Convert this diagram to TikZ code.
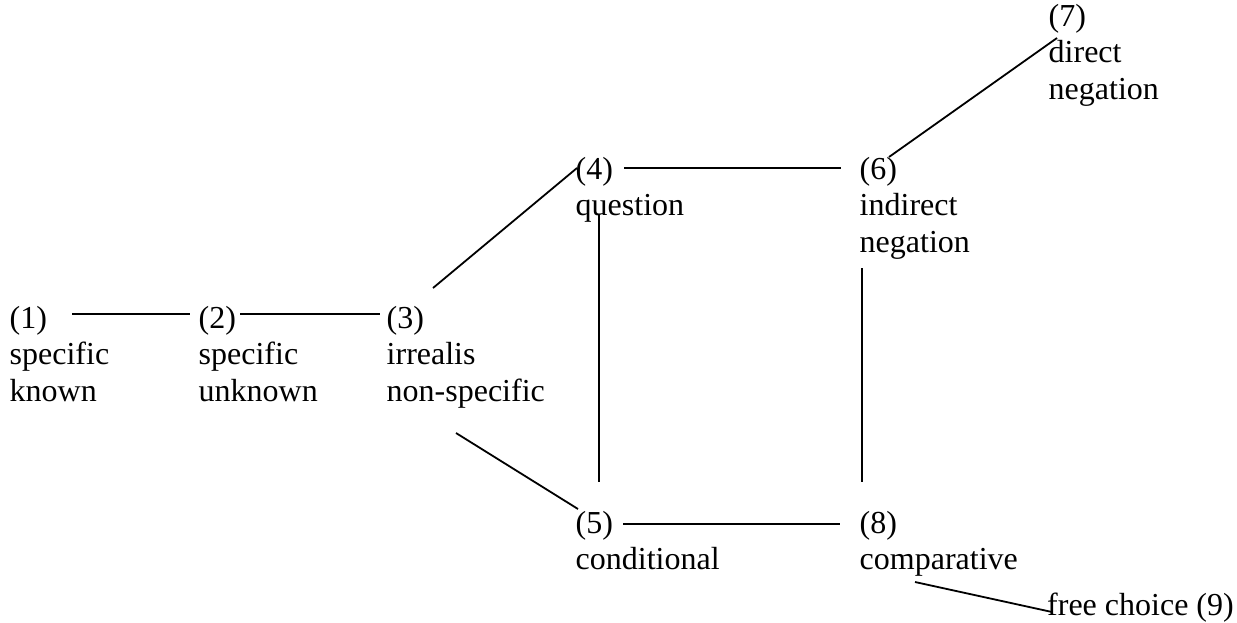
\documentclass[tikz,border=0pt]{standalone}
\usepackage{fontspec}
\setmainfont{Liberation Serif}
\newcommand\stackit[1]{\begin{tabular}[t]{@{}l@{}}#1\end{tabular}}
\begin{document}
\begin{tikzpicture}[x=1pt,y=-1pt,
  lbl/.style={inner sep=0pt, anchor=base west, font=\fontsize{32}{36.5}\selectfont},
  link/.style={line width=1.8pt}]
\useasboundingbox (0,0) rectangle (1237,622);
% concept nodes
\node[lbl] (n1) at (9.5,328) {\stackit{(1)\\specific\\known}};
\node[lbl] (n2) at (198.5,328) {\stackit{(2)\\specific\\unknown}};
\node[lbl] (n3) at (386.5,328) {\stackit{(3)\\irrealis\\non-specific}};
\node[lbl] (n4) at (575.5,179) {\stackit{(4)\\question}};
\node[lbl] (n6) at (859.5,179) {\stackit{(6)\\indirect\\negation}};
\node[lbl] (n7) at (1048.5,26) {\stackit{(7)\\direct\\negation}};
\node[lbl] (n5) at (575.5,533) {\stackit{(5)\\conditional}};
\node[lbl] (n8) at (859.5,533) {\stackit{(8)\\comparative}};
\node[lbl] (n9) at (1047,615) {free choice (9)};
% connector end points
\coordinate (c12a) at (72,314);  \coordinate (c12b) at (190,314);
\coordinate (c23a) at (240,314); \coordinate (c23b) at (380,314);
\coordinate (c34a) at (433,288); \coordinate (c34b) at (577,168);
\coordinate (c46a) at (624,168); \coordinate (c46b) at (841,168);
\coordinate (c67a) at (889,157); \coordinate (c67b) at (1057,38);
\coordinate (c45a) at (599,215); \coordinate (c45b) at (599,482);
\coordinate (c68a) at (862,268); \coordinate (c68b) at (862,482);
\coordinate (c35a) at (456,433); \coordinate (c35b) at (578,509);
\coordinate (c58a) at (623,524); \coordinate (c58b) at (840,524);
\coordinate (c89a) at (915,582); \coordinate (c89b) at (1052,612);
% connectors
\draw[link] (c12a) -- (c12b);
\draw[link] (c23a) -- (c23b);
\draw[link] (c34a) -- (c34b);
\draw[link] (c46a) -- (c46b);
\draw[link] (c67a) -- (c67b);
\draw[link] (c45a) -- (c45b);
\draw[link] (c68a) -- (c68b);
\draw[link] (c35a) -- (c35b);
\draw[link] (c58a) -- (c58b);
\draw[link] (c89a) -- (c89b);
\end{tikzpicture}
\end{document}
